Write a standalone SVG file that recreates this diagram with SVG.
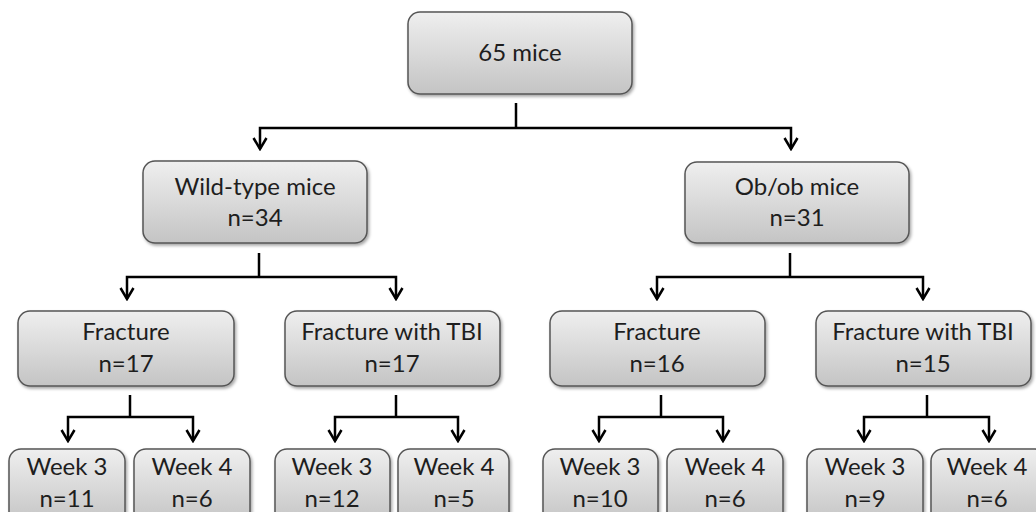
<svg xmlns="http://www.w3.org/2000/svg" width="1036" height="512" viewBox="0 0 1036 512">
<defs>
<linearGradient id="g" x1="0" y1="0" x2="0" y2="1">
<stop offset="0" stop-color="#efefef"/>
<stop offset="1" stop-color="#c4c4c4"/>
</linearGradient>
<filter id="sh" x="-10%" y="-10%" width="130%" height="130%">
<feDropShadow dx="1.5" dy="2" stdDeviation="1.5" flood-color="#000" flood-opacity="0.35"/>
</filter>
<marker id="ah" viewBox="-12 -8 14 16" refX="0" refY="0" markerWidth="14" markerHeight="16" markerUnits="userSpaceOnUse" orient="auto">
<path d="M-11,-6.5 L0,0 L-11,6.5" fill="none" stroke="#000" stroke-width="2.5"/>
</marker>
<style>
.box{fill:url(#g);stroke:#555;stroke-width:1.5;filter:url(#sh)}
.t{font-family:Lato,"Liberation Sans",sans-serif;font-size:24px;fill:#1e1e1e;text-anchor:middle}
.c{fill:none;stroke:#000;stroke-width:2.5}
.a{marker-end:url(#ah)}
</style>
</defs>
<g id="connectors">
<path class="c" d="M516,103 V128"/>
<path class="c a" d="M516,128 H260 V149"/>
<path class="c a" d="M516,128 H791 V149"/>
<path class="c" d="M259,253 V277"/>
<path class="c a" d="M259,277 H127 V299"/>
<path class="c a" d="M259,277 H396 V299"/>
<path class="c" d="M790,253 V277"/>
<path class="c a" d="M790,277 H657 V299"/>
<path class="c a" d="M790,277 H923 V299"/>
<path class="c" d="M130,395 V417"/>
<path class="c a" d="M130,417 H68 V441"/>
<path class="c a" d="M130,417 H193 V441"/>
<path class="c" d="M396,395 V417"/>
<path class="c a" d="M396,417 H335 V441"/>
<path class="c a" d="M396,417 H458 V441"/>
<path class="c" d="M661,395 V417"/>
<path class="c a" d="M661,417 H599 V441"/>
<path class="c a" d="M661,417 H723 V441"/>
<path class="c" d="M927,395 V417"/>
<path class="c a" d="M927,417 H864 V441"/>
<path class="c a" d="M927,417 H989 V441"/>
</g>
<g id="n-root"><rect class="box" x="408" y="12" width="224" height="82" rx="12"/><text class="t" x="520" y="61">65 mice</text></g>
<g id="n-wt"><rect class="box" x="143" y="161" width="224" height="82" rx="12"/><text class="t" x="255" y="195">Wild-type mice</text><text class="t" x="255" y="226">n=34</text></g>
<g id="n-ob"><rect class="box" x="685" y="162" width="224" height="81" rx="12"/><text class="t" x="797" y="195">Ob/ob mice</text><text class="t" x="797" y="226">n=31</text></g>
<g id="n-wt-frac"><rect class="box" x="18" y="311" width="216" height="75" rx="12"/><text class="t" x="126" y="340">Fracture</text><text class="t" x="126" y="372">n=17</text></g>
<g id="n-wt-tbi"><rect class="box" x="285" y="311" width="215" height="75" rx="12"/><text class="t" x="392" y="340">Fracture with TBI</text><text class="t" x="392" y="372">n=17</text></g>
<g id="n-ob-frac"><rect class="box" x="550" y="311" width="215" height="75" rx="12"/><text class="t" x="657" y="340">Fracture</text><text class="t" x="657" y="372">n=16</text></g>
<g id="n-ob-tbi"><rect class="box" x="816" y="311" width="215" height="75" rx="12"/><text class="t" x="923" y="340">Fracture with TBI</text><text class="t" x="923" y="372">n=15</text></g>
<g id="n-wt-frac-w3"><rect class="box" x="9" y="449" width="116" height="75" rx="12"/><text class="t" x="67" y="475">Week 3</text><text class="t" x="67" y="507">n=11</text></g>
<g id="n-wt-frac-w4"><rect class="box" x="134" y="449" width="116" height="75" rx="12"/><text class="t" x="192" y="475">Week 4</text><text class="t" x="192" y="507">n=6</text></g>
<g id="n-wt-tbi-w3"><rect class="box" x="275" y="449" width="115" height="75" rx="12"/><text class="t" x="332" y="475">Week 3</text><text class="t" x="332" y="507">n=12</text></g>
<g id="n-wt-tbi-w4"><rect class="box" x="398" y="449" width="111" height="75" rx="12"/><text class="t" x="454" y="475">Week 4</text><text class="t" x="454" y="507">n=5</text></g>
<g id="n-ob-frac-w3"><rect class="box" x="543" y="449" width="115" height="75" rx="12"/><text class="t" x="600" y="475">Week 3</text><text class="t" x="600" y="507">n=10</text></g>
<g id="n-ob-frac-w4"><rect class="box" x="667" y="449" width="116" height="75" rx="12"/><text class="t" x="725" y="475">Week 4</text><text class="t" x="725" y="507">n=6</text></g>
<g id="n-ob-tbi-w3"><rect class="box" x="807" y="449" width="116" height="75" rx="12"/><text class="t" x="865" y="475">Week 3</text><text class="t" x="865" y="507">n=9</text></g>
<g id="n-ob-tbi-w4"><rect class="box" x="931" y="449" width="116" height="75" rx="12"/><text class="t" x="987" y="475">Week 4</text><text class="t" x="987" y="507">n=6</text></g>
</svg>
